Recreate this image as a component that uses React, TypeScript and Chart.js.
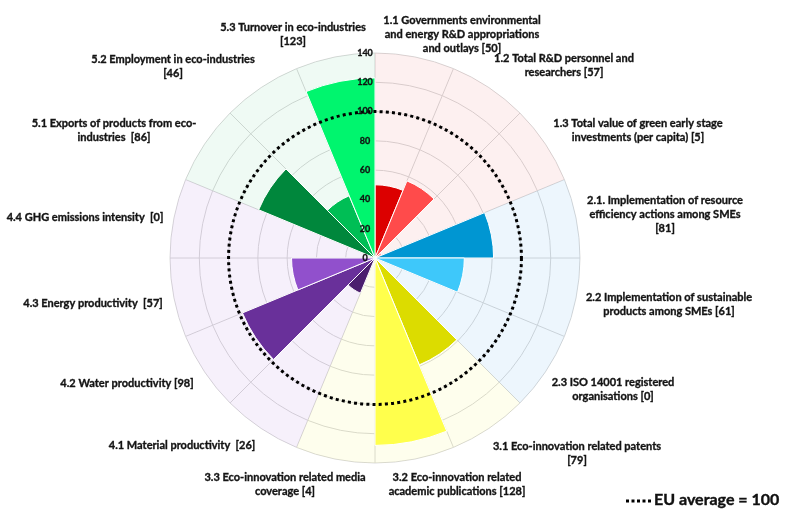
import React, { useEffect, useRef } from 'react';
import { Chart, registerables } from 'chart.js';

Chart.register(...registerables);

// ---- Data ----
const CATEGORIES = [
  '1.1', '1.2', '1.3', '2.1', '2.2', '2.3', '3.1', '3.2',
  '3.3', '4.1', '4.2', '4.3', '4.4', '5.1', '5.2', '5.3',
];
const VALUES = [50, 57, 5, 81, 61, 0, 79, 128, 4, 26, 98, 57, 0, 86, 46, 123];
const LABEL_LINES: string[][] = [
  ['1.1 Governments environmental', 'and energy R&D appropriations', 'and outlays [50]'],
  ['1.2 Total R&D personnel and', 'researchers [57]'],
  ['1.3 Total value of green early stage', 'investments (per capita) [5]'],
  ['2.1. Implementation of resource', 'efficiency actions among SMEs', '[81]'],
  ['2.2 Implementation of sustainable', 'products among SMEs [61]'],
  ['2.3 ISO 14001 registered', 'organisations [0]'],
  ['3.1 Eco-innovation related patents', '[79]'],
  ['3.2 Eco-innovation related', 'academic publications [128]'],
  ['3.3 Eco-innovation related media', 'coverage [4]'],
  ['4.1 Material productivity  [26]'],
  ['4.2 Water productivity [98]'],
  ['4.3 Energy productivity  [57]'],
  ['4.4 GHG emissions intensity  [0]'],
  ['5.1 Exports of products from eco-', 'industries  [86]'],
  ['5.2 Employment in eco-industries', '[46]'],
  ['5.3 Turnover in eco-industries', '[123]'],
];
const GROUPS = [1, 1, 1, 2, 2, 2, 3, 3, 3, 4, 4, 4, 4, 5, 5, 5];
const SCALE_MAX = 140;
const TICKS = [0, 20, 40, 60, 80, 100, 120, 140];
const EU_AVERAGE = 100;
const LEGEND_TEXT = 'EU average = 100';

// ---- Styles / layout ----
const BAR_COLORS = [
  '#dc0000', '#ff4b4b', '#ff9a9a', '#0096d2', '#3ec8fa', '#9fdcf5', '#dcdc00', '#ffff4c',
  '#ffffa0', '#4b1e6e', '#69309a', '#9150cc', '#b9a0e0', '#00873c', '#00be55', '#00f56e',
];
const GROUP_BG: Record<number, string> = {
  1: 'rgba(235,60,60,0.08)',
  2: 'rgba(60,150,230,0.09)',
  3: 'rgba(240,240,60,0.09)',
  4: 'rgba(150,90,210,0.09)',
  5: 'rgba(50,190,120,0.08)',
};
// label anchor (center x, first-line y) in pixels
const LABEL_POS: [number, number][] = [
  [462, 20], [564, 58], [638, 123], [665, 200], [669, 297], [613, 382], [577, 446], [457, 477],
  [285, 477], [182, 445], [127, 383], [93, 303], [85, 217], [114, 123], [173, 59], [293, 27],
];
const LABEL_FONT = 'bold 11px Lato, "Open Sans", sans-serif';
const LINE_H = 14;

function boldText(ctx: CanvasRenderingContext2D, s: string, x: number, y: number, w: number) {
  ctx.fillText(s, x, y);
  ctx.lineWidth = w;
  ctx.strokeText(s, x, y);
}

const overlayPlugin = {
  id: 'overlay',
  afterDatasetsDraw(chart: any) {
    const r = chart.scales.r;
    const ctx: CanvasRenderingContext2D = chart.ctx;
    const cx = r.xCenter;
    const cy = r.yCenter;
    ctx.save();
    // EU average dotted circle
    ctx.beginPath();
    ctx.arc(cx, cy, r.getDistanceFromCenterForValue(EU_AVERAGE), 0, Math.PI * 2);
    ctx.setLineDash([3, 3.2]);
    ctx.lineWidth = 3;
    ctx.strokeStyle = '#000';
    ctx.stroke();
    ctx.setLineDash([]);

    // tick labels
    ctx.font = 'bold 9px Lato, sans-serif';
    ctx.fillStyle = '#111';
    ctx.strokeStyle = '#111';
    ctx.textAlign = 'center';
    ctx.textBaseline = 'middle';
    TICKS.forEach((t) => {
      boldText(ctx, String(t), cx - 10, cy - r.getDistanceFromCenterForValue(t), 0.3);
    });

    // category labels
    ctx.font = LABEL_FONT;
    ctx.fillStyle = '#141414';
    ctx.strokeStyle = '#141414';
    LABEL_LINES.forEach((lines, i) => {
      const [x, y] = LABEL_POS[i];
      lines.forEach((ln, j) => boldText(ctx, ln, x, y + j * LINE_H, 0.35));
    });

    // legend
    ctx.beginPath();
    ctx.moveTo(626, 501);
    ctx.lineTo(651, 501);
    ctx.setLineDash([3, 2.5]);
    ctx.lineWidth = 3;
    ctx.strokeStyle = '#000';
    ctx.stroke();
    ctx.setLineDash([]);
    ctx.font = 'bold 16px Lato, sans-serif';
    ctx.textAlign = 'left';
    ctx.fillStyle = '#111';
    ctx.strokeStyle = '#111';
    boldText(ctx, LEGEND_TEXT, 654, 500, 0.4);
    ctx.restore();
  },
};

export default function App() {
  const canvasRef = useRef<HTMLCanvasElement | null>(null);

  useEffect(() => {
    const canvas = canvasRef.current;
    if (!canvas) return;
    const chart = new Chart(canvas, {
      type: 'polarArea',
      data: {
        labels: CATEGORIES,
        datasets: [
          {
            data: VALUES,
            backgroundColor: BAR_COLORS,
            borderColor: '#ffffff',
            borderWidth: 1,
          },
          {
            data: CATEGORIES.map(() => SCALE_MAX),
            backgroundColor: GROUPS.map((g) => GROUP_BG[g]),
            borderWidth: 0,
          },
        ],
      },
      options: {
        responsive: false,
        animation: false,
        layout: { padding: { left: 170, right: 212, top: 53, bottom: 52 } },
        plugins: {
          legend: { display: false },
          tooltip: { enabled: false },
        },
        scales: {
          r: {
            min: 0,
            max: SCALE_MAX,
            startAngle: 0,
            ticks: { stepSize: 20, display: false },
            grid: { color: '#d8d8d8', lineWidth: 1, circular: true },
            angleLines: { display: true, color: '#d8d8d8' },
            pointLabels: { display: false },
          },
        },
      },
      plugins: [overlayPlugin],
    });
    return () => chart.destroy();
  }, []);

  return (
    <div style={{ position: 'absolute', left: 0, top: 0, width: 792, height: 515, background: '#fff' }}>
      <canvas ref={canvasRef} width={792} height={515} style={{ display: 'block' }} />
    </div>
  );
}
